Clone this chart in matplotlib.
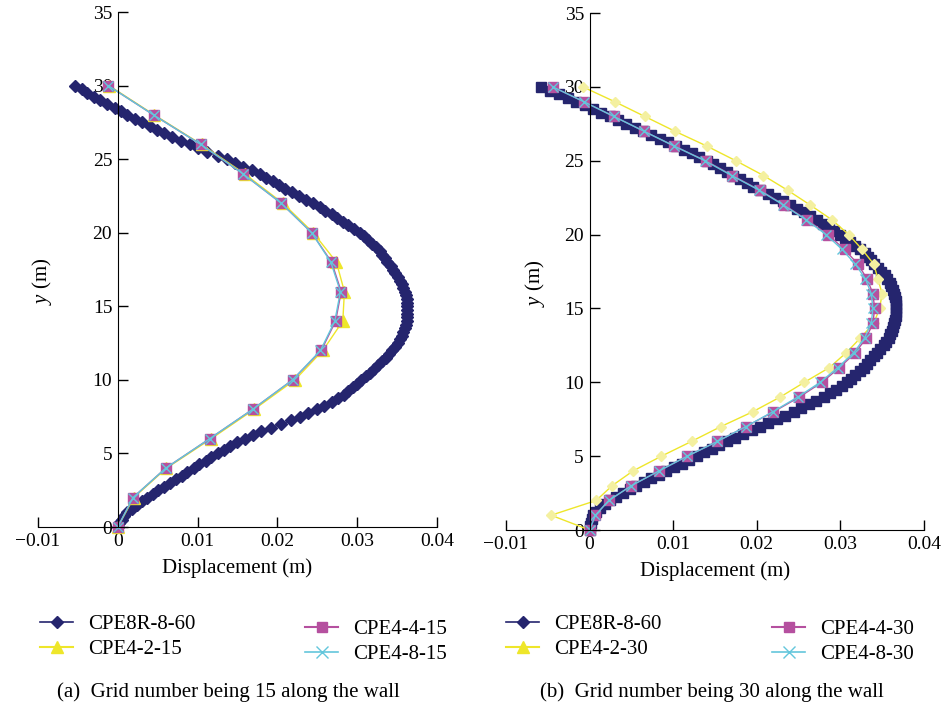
#
# Wall displacement profiles for two grid densities
#

import matplotlib
matplotlib.use("Agg")
import matplotlib.pyplot as plt
from matplotlib.lines import Line2D

plt.rcParams['font.family'] = ['Liberation Serif', 'DejaVu Serif']
plt.rcParams['mathtext.fontset'] = 'custom'
plt.rcParams['mathtext.it'] = 'Liberation Serif:italic'
plt.rcParams['mathtext.rm'] = 'Liberation Serif'

# reference solution CPE8R-8-60 (nodes every 0.25 m)
y_ref = [0, 0.25, 0.5, 0.75, 1, 1.25, 1.5, 1.75, 2, 2.25, 2.5, 2.75, 3, 3.25, 3.5, 3.75,
         4, 4.25, 4.5, 4.75, 5, 5.25, 5.5, 5.75, 6, 6.25, 6.5, 6.75, 7, 7.25, 7.5, 7.75,
         8, 8.25, 8.5, 8.75, 9, 9.25, 9.5, 9.75, 10, 10.25, 10.5, 10.75, 11, 11.25, 11.5, 11.75,
         12, 12.25, 12.5, 12.75, 13, 13.25, 13.5, 13.75, 14, 14.25, 14.5, 14.75, 15, 15.25, 15.5, 15.75,
         16, 16.25, 16.5, 16.75, 17, 17.25, 17.5, 17.75, 18, 18.25, 18.5, 18.75, 19, 19.25, 19.5, 19.75,
         20, 20.25, 20.5, 20.75, 21, 21.25, 21.5, 21.75, 22, 22.25, 22.5, 22.75, 23, 23.25, 23.5, 23.75,
         24, 24.25, 24.5, 24.75, 25, 25.25, 25.5, 25.75, 26, 26.25, 26.5, 26.75, 27, 27.25, 27.5, 27.75,
         28, 28.25, 28.5, 28.75, 29, 29.25, 29.5, 29.75, 30]
ref_a = [0.0000, 0.0002, 0.0005, 0.0008, 0.0012, 0.0018, 0.0024, 0.0030,
         0.0037, 0.0044, 0.0051, 0.0058, 0.0066, 0.0073, 0.0080, 0.0087,
         0.0095, 0.0102, 0.0110, 0.0117, 0.0125, 0.0133, 0.0141, 0.0150,
         0.0160, 0.0170, 0.0180, 0.0192, 0.0205, 0.0217, 0.0228, 0.0239,
         0.0250, 0.0259, 0.0268, 0.0276, 0.0283, 0.0289, 0.0295, 0.0300,
         0.0305, 0.0311, 0.0316, 0.0321, 0.0326, 0.0331, 0.0336, 0.0340,
         0.0344, 0.0348, 0.0351, 0.0354, 0.0356, 0.0358, 0.0360, 0.0361,
         0.0362, 0.0363, 0.0363, 0.0363, 0.0363, 0.0363, 0.0362, 0.0361,
         0.0360, 0.0358, 0.0356, 0.0354, 0.0351, 0.0348, 0.0345, 0.0342,
         0.0338, 0.0335, 0.0331, 0.0328, 0.0324, 0.0319, 0.0314, 0.0309,
         0.0303, 0.0296, 0.0289, 0.0282, 0.0275, 0.0268, 0.0260, 0.0253,
         0.0245, 0.0236, 0.0227, 0.0218, 0.0210, 0.0202, 0.0194, 0.0186,
         0.0178, 0.0168, 0.0157, 0.0147, 0.0137, 0.0125, 0.0112, 0.0101,
         0.0090, 0.0079, 0.0068, 0.0058, 0.0049, 0.0040, 0.0030, 0.0021,
         0.0012, 0.0004, -0.0004, -0.0013, -0.0022, -0.0030, -0.0038, -0.0045,
         -0.0053]
ref_b = [0.0000, 0.0001, 0.0002, 0.0003, 0.0004, 0.0008, 0.0012, 0.0018,
         0.0024, 0.0032, 0.0040, 0.0048, 0.0056, 0.0065, 0.0074, 0.0083,
         0.0092, 0.0101, 0.0110, 0.0119, 0.0128, 0.0137, 0.0146, 0.0155,
         0.0164, 0.0174, 0.0184, 0.0194, 0.0204, 0.0214, 0.0224, 0.0234,
         0.0244, 0.0253, 0.0262, 0.0271, 0.0280, 0.0288, 0.0295, 0.0302,
         0.0308, 0.0313, 0.0318, 0.0323, 0.0328, 0.0332, 0.0336, 0.0340,
         0.0344, 0.0348, 0.0352, 0.0355, 0.0358, 0.0360, 0.0362, 0.0363,
         0.0364, 0.0365, 0.0366, 0.0366, 0.0366, 0.0366, 0.0366, 0.0365,
         0.0364, 0.0363, 0.0361, 0.0359, 0.0356, 0.0353, 0.0349, 0.0345,
         0.0340, 0.0337, 0.0333, 0.0329, 0.0324, 0.0318, 0.0312, 0.0306,
         0.0300, 0.0293, 0.0286, 0.0279, 0.0272, 0.0264, 0.0256, 0.0248,
         0.0240, 0.0231, 0.0222, 0.0213, 0.0204, 0.0196, 0.0188, 0.0180,
         0.0172, 0.0164, 0.0156, 0.0148, 0.0140, 0.0131, 0.0122, 0.0113,
         0.0104, 0.0094, 0.0084, 0.0074, 0.0064, 0.0054, 0.0044, 0.0034,
         0.0024, 0.0014, 0.0004, -0.0006, -0.0016, -0.0026, -0.0037, -0.0047,
         -0.0058]

# (a) 15 elements along the wall
y_15 = [0, 2, 4, 6, 8, 10, 12, 14, 16, 18, 20, 22, 24, 26, 28, 30]
cpe4_2_15 = [0.0000, 0.0020, 0.0061, 0.0117, 0.0171, 0.0222, 0.0257, 0.0282, 0.0284, 0.0274,
             0.0245, 0.0207, 0.0159, 0.0105, 0.0046, -0.0011]
cpe4_4_15 = [0.0000, 0.0019, 0.0060, 0.0115, 0.0169, 0.0219, 0.0255, 0.0273, 0.0280, 0.0268,
             0.0243, 0.0205, 0.0157, 0.0104, 0.0045, -0.0012]
cpe4_8_15 = [0.0000, 0.0019, 0.0060, 0.0115, 0.0169, 0.0219, 0.0254, 0.0272, 0.0279, 0.0267,
             0.0243, 0.0205, 0.0157, 0.0104, 0.0045, -0.0012]

# (b) 30 elements along the wall
y_30 = [0, 1, 2, 3, 4, 5, 6, 7, 8, 9, 10, 11, 12, 13, 14, 15, 16, 17, 18, 19, 20,
        21, 22, 23, 24, 25, 26, 27, 28, 29, 30]
cpe4_2_30 = [0.0000, -0.0046, 0.0008, 0.0027, 0.0052, 0.0086, 0.0122, 0.0157, 0.0195, 0.0228,
             0.0257, 0.0287, 0.0307, 0.0324, 0.0340, 0.0347, 0.0350, 0.0345, 0.0340, 0.0326,
             0.0310, 0.0290, 0.0264, 0.0237, 0.0208, 0.0175, 0.0140, 0.0102, 0.0066, 0.0030,
             -0.0008]
cpe4_4_30 = [0.0000, 0.0007, 0.0023, 0.0050, 0.0083, 0.0117, 0.0153, 0.0187, 0.0220, 0.0251,
             0.0278, 0.0299, 0.0318, 0.0331, 0.0339, 0.0341, 0.0339, 0.0332, 0.0321, 0.0305,
             0.0285, 0.0260, 0.0233, 0.0204, 0.0171, 0.0139, 0.0101, 0.0065, 0.0029, -0.0007,
             -0.0044]
cpe4_8_30 = [0.0000, 0.0007, 0.0023, 0.0050, 0.0083, 0.0117, 0.0153, 0.0187, 0.0219, 0.0249,
             0.0276, 0.0297, 0.0316, 0.0329, 0.0337, 0.0339, 0.0337, 0.0330, 0.0318, 0.0302,
             0.0283, 0.0259, 0.0232, 0.0203, 0.0170, 0.0138, 0.0101, 0.0065, 0.0029, -0.0007,
             -0.0044]

navy = '#25256e'
yellow = '#eee62a'
pale = '#f4f0a0'
magenta = '#b5509f'
cyan = '#63c6dc'

def style_axes(ax, lab_x):
    ax.set_xlim(-0.01, 0.04)
    ax.set_ylim(0, 35)
    ax.spines['left'].set_position(('data', 0))
    ax.spines['top'].set_visible(False)
    ax.spines['right'].set_visible(False)
    ax.set_xticks([-0.01, 0, 0.01, 0.02, 0.03, 0.04])
    ax.set_xticklabels(['\u22120.01', '0', '0.01', '0.02', '0.03', '0.04'])
    ax.set_yticks([0, 5, 10, 15, 20, 25, 30, 35])
    ax.tick_params(direction='in', length=7, width=1, labelsize=14, pad=4)
    ax.tick_params(axis='y', pad=4)
    ax.set_xlabel('Displacement (m)', fontsize=15, labelpad=6)
    ax.set_ylabel('$y$ (m)', fontsize=15)
    ax.yaxis.set_label_coords(lab_x, 0.478)
    ax.patch.set_alpha(0)

fig = plt.figure(figsize=(9.45, 7.08), dpi=100)
ax1 = fig.add_axes([0.0402, 0.2556, 0.4222, 0.7274])
ax2 = fig.add_axes([0.5354, 0.2514, 0.4423, 0.7302])

# panel (a)
ax1.plot(ref_a, y_ref, color=navy, lw=1, marker='D', ms=6.3, mec=navy, mfc=navy, clip_on=False)
ax1.plot(cpe4_2_15, y_15, color=yellow, lw=1, marker='^', ms=9, mec=yellow, mfc=yellow, clip_on=False)
ax1.plot(cpe4_4_15, y_15, color=magenta, lw=1, marker='s', ms=7.5, mec=magenta, mfc=magenta, clip_on=False)
ax1.plot(cpe4_8_15, y_15, color=cyan, lw=1, marker='x', ms=7, mew=1, clip_on=False)
style_axes(ax1, 0.040)

# panel (b)
ax2.plot(ref_b, y_ref, color=navy, lw=1, marker='s', ms=7, mec=navy, mfc=navy, clip_on=False)
ax2.plot(cpe4_2_30, y_30, color=yellow, lw=1, marker='D', ms=5, mec=pale, mfc=pale, clip_on=False)
ax2.plot(cpe4_4_30, y_30, color=magenta, lw=1, marker='s', ms=7, mec=magenta, mfc=magenta, clip_on=False)
ax2.plot(cpe4_8_30, y_30, color=cyan, lw=1, marker='x', ms=7, mew=1, clip_on=False)
style_axes(ax2, 0.098)

# legends below each panel, two columns drawn separately (second one sits a bit lower)
def make_legend(n, x_col1, x_col2):
    h1 = [Line2D([], [], color=navy, marker='D', ms=6.5, lw=1.2),
          Line2D([], [], color=yellow, marker='^', ms=9, lw=1.5)]
    h2 = [Line2D([], [], color=magenta, marker='s', ms=6.5, lw=1.5),
          Line2D([], [], color=cyan, marker='x', ms=8, lw=1.2)]
    kw = dict(loc='upper left', frameon=False, fontsize=15, handlelength=1.6,
              handletextpad=0.7, labelspacing=0.25, borderpad=0, borderaxespad=0)
    fig.legend(h1, ['CPE8R-8-60', f'CPE4-2-{n}'], bbox_to_anchor=(x_col1, 0.132), **kw)
    fig.legend(h2, [f'CPE4-4-{n}', f'CPE4-8-{n}'], bbox_to_anchor=(x_col2, 0.125), **kw)

make_legend(15, 40 / 945, 305 / 945)
make_legend(30, 506 / 945, 772 / 945)

fig.text(0.242, 0.0226, '(a)  Grid number being 15 along the wall', ha='center', va='center', fontsize=15)
fig.text(0.753, 0.0226, '(b)  Grid number being 30 along the wall', ha='center', va='center', fontsize=15)

fig.savefig('out.png', dpi=100)
